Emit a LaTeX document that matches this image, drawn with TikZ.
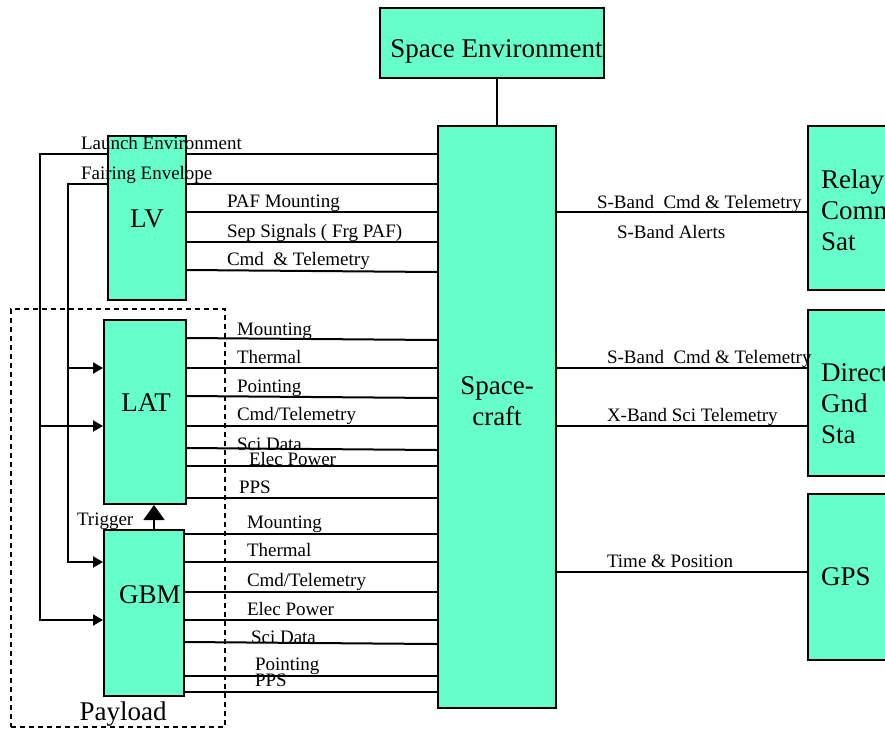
\documentclass[tikz,border=0pt]{standalone}
\usepackage{fontspec}
\setmainfont{Liberation Serif}
\usetikzlibrary{arrows.meta,backgrounds}
\definecolor{boxfill}{HTML}{66FFCC}
\begin{document}
\begin{tikzpicture}[x=1pt,y=-1pt,line width=2pt,>={Triangle[length=10pt,width=11pt]},every on background layer/.style={line width=2pt}]
    \tikzstyle{box}=[draw,fill=boxfill,inner sep=0pt]
    \tikzstyle{big}=[font=\fontsize{27}{31}\selectfont,inner sep=0pt]
    \tikzstyle{lbl}=[font=\fontsize{19}{21}\selectfont,anchor=base west,inner sep=0pt]
    \useasboundingbox (0,0) rectangle (885,728);

    \node[box,minimum width=214pt,minimum height=418pt,fill=none,dash pattern=on 5pt off 4pt] (payload) at (118,518) {};
    \node[box,minimum width=224pt,minimum height=70pt] (spenv) at (492,43) {};
    \node[box,minimum width=118pt,minimum height=582pt] (sc) at (497,417) {};
    \node[box,minimum width=78pt,minimum height=164pt] (lv) at (147,218) {};
    \node[box,minimum width=82pt,minimum height=184pt] (lat) at (145,412) {};
    \node[box,minimum width=80pt,minimum height=166pt] (gbm) at (144,613) {};
    \node[box,minimum width=152pt,minimum height=164pt] (relay) at (884,208) {};
    \node[box,minimum width=152pt,minimum height=166pt] (direct) at (884,393) {};
    \node[box,minimum width=152pt,minimum height=166pt] (gps) at (884,577) {};

    \node[big,anchor=base] (spenvname) at (496.5,57) {Space Environment};
    \node[big,align=center] (scname) at (497,401) {Space-\\craft};
    \node[big] (lvname) at (147,219) {LV};
    \node[big] (latname) at (146,403) {LAT};
    \node[big] (gbmname) at (150,595) {GBM};
    \node[big,align=left,anchor=west] (relayname) at (820,210) {Relay\\Comm\\Sat};
    \node[big,align=left,anchor=west] (directname) at (820,404) {Direct\\Gnd\\Sta};
    \node[big,anchor=west] (gpsname) at (820,577) {GPS};
    \node[big,anchor=base] (payloadname) at (123,720.7) {Payload};

    \begin{scope}[on background layer]
        \coordinate (launch) at (40,154);
        \coordinate (fairing) at (68,184);
        \draw[->] (sc.west |- launch) -- (launch) |- (gbm.west |- 0,620);
        \draw[->] (launch |- 0,426) -- (lat.west |- 0,426);
        \draw[->] (sc.west |- fairing) -- (fairing) |- (gbm.west |- 0,562);
        \draw[->] (fairing |- 0,368) -- (lat.west |- 0,368);
    \end{scope}

    \draw (sc.north |- spenv.south) -- (sc.north);

    \draw (lv.east |- 0,212) -- (sc.west |- 0,212);
    \draw (lv.east |- 0,242) -- (sc.west |- 0,242);
    \draw (lv.east |- 0,270) -- (sc.west |- 0,272);

    \draw (lat.east |- 0,338) -- (sc.west |- 0,340);
    \draw (lat.east |- 0,368) -- (sc.west |- 0,368);
    \draw (lat.east |- 0,396) -- (sc.west |- 0,398);
    \draw (lat.east |- 0,426) -- (sc.west |- 0,426);
    \draw (lat.east |- 0,448) -- (sc.west |- 0,450);
    \draw (lat.east |- 0,466) -- (sc.west |- 0,466);
    \draw (lat.east |- 0,498) -- (sc.west |- 0,498);

    \draw (gbm.east |- 0,534) -- (sc.west |- 0,534);
    \draw (gbm.east |- 0,562) -- (sc.west |- 0,562);
    \draw (gbm.east |- 0,592) -- (sc.west |- 0,592);
    \draw (gbm.east |- 0,620) -- (sc.west |- 0,620);
    \draw (gbm.east |- 0,642) -- (sc.west |- 0,644);
    \draw (gbm.east |- 0,676) -- (sc.west |- 0,676);
    \draw (gbm.east |- 0,692) -- (sc.west |- 0,692);

    \draw[-{Triangle[length=15pt,width=21pt]}] (gbm.north -| 154,0) -- (lat.south -| 154,0);

    \draw (sc.east |- 0,212) -- (relay.west |- 0,212);
    \draw (sc.east |- 0,368) -- (direct.west |- 0,368);
    \draw (sc.east |- 0,426) -- (direct.west |- 0,426);
    \draw (sc.east |- 0,572) -- (gps.west |- 0,572);

    \node[lbl] (launchtxt) at (80,149.3) {Launch Environment};
    \node[lbl] (fairingtxt) at (80,179.3) {Fairing Envelope};
    \node[lbl] (lvmnt) at (226,207.3) {PAF Mounting};
    \node[lbl] (lvsep) at (226,237.3) {Sep Signals ( Frg PAF)};
    \node[lbl] (lvcmd) at (226,265.7) {Cmd \ \& Telemetry};

    \node[lbl] (latmnt) at (236,335) {Mounting};
    \node[lbl] (latthm) at (236,363.3) {Thermal};
    \node[lbl] (latpnt) at (236,392.3) {Pointing};
    \node[lbl] (latcmd) at (236,420.7) {Cmd/Telemetry};
    \node[lbl] (latsci) at (236,450.7) {Sci Data};
    \node[lbl] (latpwr) at (248,465.7) {Elec Power};
    \node[lbl] (latpps) at (238,493.3) {PPS};
    \node[lbl] (trigtxt) at (76,525) {Trigger};

    \node[lbl] (gbmmnt) at (246,528.3) {Mounting};
    \node[lbl] (gbmthm) at (246,556.7) {Thermal};
    \node[lbl] (gbmcmd) at (246,586.7) {Cmd/Telemetry};
    \node[lbl] (gbmpwr) at (246,615) {Elec Power};
    \node[lbl] (gbmsci) at (250,643.3) {Sci Data};
    \node[lbl] (gbmpnt) at (254,670.7) {Pointing};
    \node[lbl] (gbmpps) at (254,686.7) {PPS};

    \node[lbl] (relaycmd) at (596,208.3) {S-Band \ Cmd \& Telemetry};
    \node[lbl] (relayalert) at (616,238.3) {S-Band Alerts};
    \node[lbl] (directcmd) at (606,363.3) {S-Band \ Cmd \& Telemetry};
    \node[lbl] (directsci) at (606,421.7) {X-Band Sci Telemetry};
    \node[lbl] (gpstime) at (606,567.7) {Time \& Position};
\end{tikzpicture}
\end{document}
